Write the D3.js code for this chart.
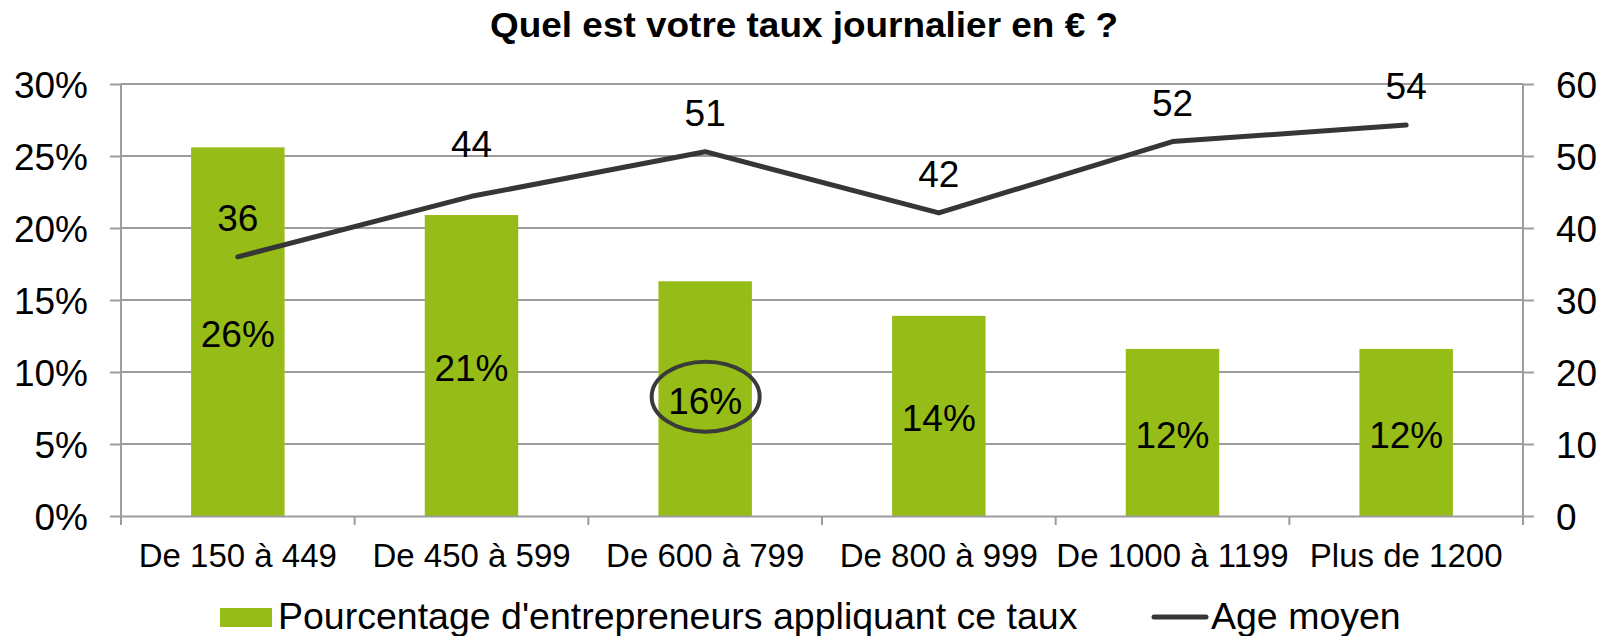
<!DOCTYPE html>
<html>
<head>
<meta charset="utf-8">
<script src="https://cdn.jsdelivr.net/npm/d3@7"></script>
<style>
  body { margin: 0; background: #fff; }
  svg text { font-family: "Liberation Sans", Arial, sans-serif; fill: #000; }
</style>
</head>
<body>
<div id="chart"></div>
<script>
// data
var categories = ["De 150 à 449", "De 450 à 599", "De 600 à 799", "De 800 à 999", "De 1000 à 1199", "Plus de 1200"];
var percentValues = [25.6, 20.9, 16.3, 13.9, 11.6, 11.6];
var percentLabels = ["26%", "21%", "16%", "14%", "12%", "12%"];
var ageValues = [36, 44.4, 50.6, 42.1, 52, 54.3];
var ageLabels = ["36", "44", "51", "42", "52", "54"];
var leftTicks = [0, 5, 10, 15, 20, 25, 30];
var rightTicks = [0, 10, 20, 30, 40, 50, 60];
var highlighted = "De 600 à 799";

var width = 1610,
    height = 636;
var plotLeft = 121, plotRight = 1523, plotTop = 84, plotBottom = 516;

var svg = d3.select("#chart")
  .append("svg")
    .attr("width", width)
    .attr("height", height);

var x = d3.scaleBand()
  .domain(categories)
  .range([plotLeft, plotRight])
  .paddingInner(0.6)
  .paddingOuter(0.3);

var xOuter = d3.scaleBand().domain(categories).range([plotLeft, plotRight]);

var y = d3.scaleLinear().domain([0, 30]).range([plotBottom, plotTop]);
var y2 = d3.scaleLinear().domain([0, 60]).range([plotBottom, plotTop]);

var gridColor = "#9c9c9c";

// title
svg.append("text")
  .attr("x", 804)
  .attr("y", 37)
  .attr("text-anchor", "middle")
  .attr("textLength", 628)
  .attr("lengthAdjust", "spacingAndGlyphs")
  .style("font-size", "35px")
  .style("font-weight", "bold")
  .text("Quel est votre taux journalier en € ?");

// gridlines
svg.append("g")
  .selectAll("line")
  .data(leftTicks.filter(function(d) { return d > 0; }))
  .enter().append("line")
    .attr("x1", plotLeft).attr("x2", plotRight)
    .attr("y1", function(d) { return y(d); })
    .attr("y2", function(d) { return y(d); })
    .attr("stroke", gridColor)
    .attr("stroke-width", 2);

// bars
svg.append("g")
  .selectAll("rect")
  .data(categories)
  .enter().append("rect")
    .attr("x", function(d) { return x(d); })
    .attr("width", x.bandwidth())
    .attr("y", function(d, i) { return y(percentValues[i]); })
    .attr("height", function(d, i) { return plotBottom - y(percentValues[i]); })
    .attr("fill", "#96bc17");

// left axis
var leftAxis = svg.append("g")
  .attr("transform", "translate(" + plotLeft + ",0)")
  .call(d3.axisLeft(y).tickValues(leftTicks).tickSize(11).tickPadding(22)
    .tickFormat(function(d) { return d + "%"; }));
leftAxis.select(".domain").remove();
leftAxis.append("line").attr("y1", plotTop).attr("y2", plotBottom + 9).attr("stroke", gridColor).attr("stroke-width", 2);
leftAxis.selectAll(".tick line").attr("stroke", gridColor).attr("stroke-width", 2);
leftAxis.selectAll("text").style("font-size", "37px").attr("dy", "0.36em")
  .style("font-family", "'Liberation Sans', Arial, sans-serif").attr("fill", "#000");

// right axis
var rightAxis = svg.append("g")
  .attr("transform", "translate(" + plotRight + ",0)")
  .call(d3.axisRight(y2).tickValues(rightTicks).tickSize(11).tickPadding(22));
rightAxis.select(".domain").remove();
rightAxis.append("line").attr("y1", plotTop).attr("y2", plotBottom + 9).attr("stroke", gridColor).attr("stroke-width", 2);
rightAxis.selectAll(".tick line").attr("stroke", gridColor).attr("stroke-width", 2);
rightAxis.selectAll("text").style("font-size", "37px").attr("dy", "0.36em")
  .style("font-family", "'Liberation Sans', Arial, sans-serif").attr("fill", "#000");

// bottom axis
var bottomAxis = svg.append("g")
  .attr("transform", "translate(0," + plotBottom + ")")
  .call(d3.axisBottom(xOuter).tickSize(0).tickPadding(20));
bottomAxis.select(".domain").attr("stroke", gridColor).attr("stroke-width", 2);
bottomAxis.selectAll("text").style("font-size", "33px").attr("dy", "0.95em")
  .style("font-family", "'Liberation Sans', Arial, sans-serif").attr("fill", "#000");
// category separator ticks
bottomAxis.selectAll(".sep")
  .data(categories)
  .enter().append("line")
    .attr("x1", function(d) { return xOuter(d); })
    .attr("x2", function(d) { return xOuter(d); })
    .attr("y1", 0).attr("y2", 9)
    .attr("stroke", gridColor).attr("stroke-width", 2);

// bar labels
svg.append("g")
  .selectAll("text")
  .data(categories)
  .enter().append("text")
    .attr("x", function(d) { return x(d) + x.bandwidth() / 2; })
    .attr("y", function(d, i) { return (y(percentValues[i]) + plotBottom) / 2 + 2; })
    .attr("dy", "0.36em")
    .attr("text-anchor", "middle")
    .style("font-size", "37px")
    .text(function(d, i) { return percentLabels[i]; });

// highlight ellipse
svg.append("ellipse")
  .attr("cx", x(highlighted) + x.bandwidth() / 2 + 0.5)
  .attr("cy", (y(percentValues[2]) + plotBottom) / 2 - 2)
  .attr("rx", 54)
  .attr("ry", 35)
  .attr("fill", "none")
  .attr("stroke", "#3a3a3a")
  .attr("stroke-width", 4);

// age line
var line = d3.line()
  .x(function(d, i) { return x(categories[i]) + x.bandwidth() / 2; })
  .y(function(d) { return y2(d); });

svg.append("path")
  .datum(ageValues)
  .attr("d", line)
  .attr("fill", "none")
  .attr("stroke", "#363636")
  .attr("stroke-width", 5)
  .attr("stroke-linecap", "round")
  .attr("stroke-linejoin", "round");

// the "44" label sits a little higher than the others in the original
function labelLift(i) { return i === 1 ? 53 : 39; }

svg.append("g")
  .selectAll("text")
  .data(ageValues)
  .enter().append("text")
    .attr("x", function(d, i) { return x(categories[i]) + x.bandwidth() / 2; })
    .attr("y", function(d, i) { return y2(d) - labelLift(i); })
    .attr("dy", "0.36em")
    .attr("text-anchor", "middle")
    .style("font-size", "37px")
    .text(function(d, i) { return ageLabels[i]; });

// legend
var legend = svg.append("g");
legend.append("rect")
  .attr("x", 220).attr("y", 608).attr("width", 52).attr("height", 19)
  .attr("fill", "#96bc17");
legend.append("text")
  .attr("x", 278).attr("y", 629)
  .style("font-size", "37.5px")
  .text("Pourcentage d'entrepreneurs appliquant ce taux");
legend.append("line")
  .attr("x1", 1154).attr("x2", 1206).attr("y1", 617).attr("y2", 617)
  .attr("stroke", "#363636").attr("stroke-width", 5).attr("stroke-linecap", "round");
legend.append("text")
  .attr("x", 1211).attr("y", 629)
  .style("font-size", "37.5px")
  .text("Age moyen");
</script>
</body>
</html>
